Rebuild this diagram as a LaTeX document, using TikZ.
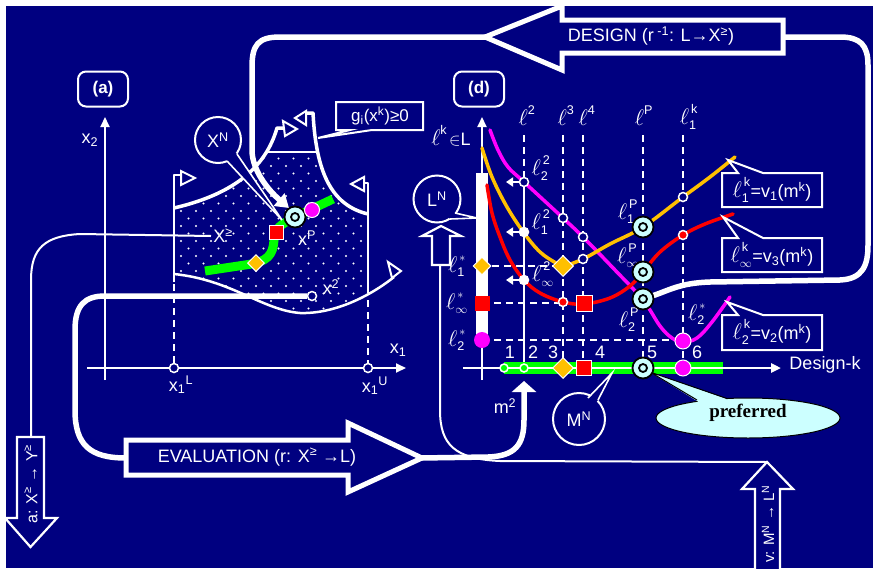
\documentclass[tikz,border=0pt]{standalone}
\usepackage{fontspec}
\setmainfont{Liberation Sans}
\newfontfamily\serifb{Liberation Serif}
\usetikzlibrary{arrows.meta,shapes.geometric}
\definecolor{navy}{HTML}{000080}
\definecolor{gold}{HTML}{FFC000}
\definecolor{lcyan}{HTML}{CCFFFF}
\definecolor{grn}{HTML}{00FF00}
\definecolor{mag}{HTML}{FF00FF}
\definecolor{rd}{HTML}{FF0000}
\newcommand{\mr}[1]{\mathrm{#1}}
\newcommand{\myup}[1]{\textsuperscript{#1}}
\newcommand{\fs}[1]{\fontsize{#1}{#1}\selectfont}
\newcommand{\Ell}{\mbox{\scalebox{1.3}{$\ell$}}}
\tikzset{
  wl/.style={draw=white,line width=2pt},
  thk/.style={draw=white,line width=5.5pt},
  txt/.style={text=white,inner sep=0pt,font=\fs{17}},
  ltxt/.style={text=white,inner sep=0pt,font=\fs{18}},
  dsh/.style={draw=white,line width=2pt,dash pattern=on 7pt off 5pt},
  cons/.style={draw=white,line width=2.5pt,line join=round},
  flagtri/.style={draw=white,line width=2pt,fill=navy,line join=miter},
  smc/.style={circle,draw=white,line width=1.5pt,fill=navy,minimum size=9pt,inner sep=0pt},
  tgto/.style={circle,draw=black,line width=1.8pt,fill=lcyan,minimum size=21pt,inner sep=0pt},
  tgti/.style={circle,draw=black,line width=1.8pt,minimum size=8pt,inner sep=0pt},
  dmd/.style={diamond,aspect=1,fill=gold,draw=white,line width=1pt,minimum size=18pt,inner sep=0pt},
  sqr/.style={rectangle,fill=rd,draw=white,line width=1pt,minimum size=14pt,inner sep=0pt},
  mdot/.style={circle,fill=mag,draw=white,line width=1pt,minimum size=15pt,inner sep=0pt},
  bigarrow/.style={draw=white,line width=5pt,fill=navy,line join=miter},
  thinarrow/.style={draw=white,line width=2.2pt,fill=navy,line join=miter},
  lblbox/.style={draw=white,line width=2pt,rounded corners=8pt,minimum width=50pt,minimum height=35pt,text=white,font=\fs{17}\bfseries},
  callbox/.style={draw=white,line width=2pt,fill=navy,line join=miter},
  crv/.style={line width=3.5pt,line cap=round},
}
\newcommand{\mytgt}[2]{\node[tgto] (#1) at (#2) {}; \node[tgti] (#1i) at (#2) {};}
\begin{document}
\begin{tikzpicture}[x=1pt,y=-1pt]
\useasboundingbox (0,0) rectangle (873,568);
\fill[white] (0,0) rectangle (873,568);
\fill[navy] (6,6) rectangle (873,568);

% ---------- panel (a): feasible region ----------
\begin{scope}
\clip (174,274) -- (174,208) .. controls (218.8,197.6) and (250.2,179.5) .. (267.1,151.2) -- (317.5,151.6) .. controls (324.5,185.9) and (339.5,207.3) .. (368,214) -- (368,293) .. controls (345,306) and (330,314) .. (300,313) .. controls (262,310) and (232,280) .. (174,274) -- cycle;
\foreach \r in {0,...,22}{\foreach \c in {0,...,15}{\fill[white] ({166+\c*15+mod(\r,2)*7.5},{151+\r*7.5}) circle (1.1pt);}}
\end{scope}
\draw[white,line width=2pt] (267.1,151.5) -- (317.5,151.5);
% constraints
\draw[cons] (174,282) -- (174,175) -- (181,175);
\draw[flagtri] (181,171) -- (195,178) -- (181,185) -- cycle;
\draw[cons,line width=3.5pt] (174,208) .. controls (230,195) and (265,170) .. (277,128) -- (283,128);
\draw[flagtri] (283,121) -- (297,129) -- (285,136) -- cycle;
\draw[cons,line width=3.5pt] (306,113) -- (313,113) .. controls (316,170) and (330,205) .. (368,214);
\draw[flagtri] (295,118) -- (306,111) -- (306,125) -- cycle;
\draw[cons] (368,293) -- (368,183) -- (364,183);
\draw[flagtri] (351,184) -- (364,177) -- (364,191) -- cycle;
\draw[cons] (174,274) .. controls (232,280) and (262,310) .. (300,313) .. controls (330,314) and (365,300) .. (394,277);
\draw[flagtri] (388,262) -- (401,271) -- (392,278) -- cycle;
% green path
\draw[grn,line width=9pt] (205,271) -- (245,265) .. controls (268,262) and (273,255) .. (274,240) .. controls (275,228) and (280,225) .. (295,217) -- (333,199);

% axes (a)
\draw[wl,-{Triangle[length=10pt,width=9pt]}] (105,380) -- (105,117);
\draw[wl,-{Triangle[length=10pt,width=9pt]}] (87,368) -- (406,368);
\draw[dsh] (174,284) -- (174,364);
\draw[dsh] (368,300) -- (368,364);
\node[txt,font=\fs{18}] (x2lab) at (90,140) {x\textsubscript{2}};
\node[txt,font=\fs{18}] (x1lab) at (398,350) {x\textsubscript{1}};
\node[txt,font=\fs{18}] (x1Llab) at (181,385) {x\textsubscript{1}\textsuperscript{L}};
\node[txt,font=\fs{18}] (x1Ulab) at (375,386) {x\textsubscript{1}\textsuperscript{U}};
\node[smc] (x1l) at (174,368) {};
\node[smc] (x1u) at (368,368) {};
\node[lblbox] (alab) at (103,89) {(a)};

% X^N callout
\draw[white,line width=2pt,fill=navy] (218,140) circle (23pt);
\fill[navy] (227,161) -- (282,220) -- (237,154) -- (218,140) -- cycle;
\draw[white,line width=1.6pt] (227,161) -- (282,220) -- (237,154);
\node[txt,font=\fs{18}] (xn) at (218,140) {X\myup{N}};
% g callout
\draw[callbox] (336,102) -- (423,102) -- (423,130) -- (372,130) -- (318,138) -- (350,130) -- (336,130) -- cycle;
\node[txt] (glab) at (380,116) {g\textsubscript{i}(x\myup{k})≥0};

% ---------- loops ----------
\draw[white,line width=2pt] (211,236) -- (80,234) .. controls (45,236) and (31,248) .. (31,280) -- (31,438);
\draw[thk] (307,296) -- (105,296) .. controls (85,296) and (75,305) .. (75,330) -- (75,410) .. controls (75,445) and (90,458) .. (126,458);
\draw[white,line width=2pt] (767,462) -- (500,461) .. controls (455,459) and (440,445) .. (440,410) -- (440,265);
\draw[thk,-{Triangle[length=11pt,width=24pt]}] (420,458) -- (488,457) .. controls (515,456) and (524,445) .. (524,420) -- (524,381);
\draw[thk] (652,296) .. controls (670,290) and (680,283) .. (710,282) -- (840,280) .. controls (863,279) and (868,265) .. (868,245) -- (868,65) .. controls (868,45) and (860,37) .. (840,37) -- (780,37);
\draw[thk,-{Triangle[length=13pt,width=16pt]}] (487,37) -- (280,37) .. controls (258,37) and (252,45) .. (252,67) -- (252,150) .. controls (252,170) and (268,190) .. (289,208);

% block arrows
\draw[bigarrow] (126,440) -- (348,440) -- (348,423) -- (422,458) -- (348,492) -- (348,475) -- (126,475) -- cycle;
\node[txt,font=\fs{18}] (evl) at (257,457) {EVALUATION (r: X\myup{≥} →L)};
\draw[bigarrow] (783,20) -- (562,20) -- (562,6) -- (485,37) -- (562,70) -- (562,53) -- (783,53) -- cycle;
\node[txt,font=\fs{18}] (dsg) at (651,36) {DESIGN (r\myup{ -1}: L→X\myup{≥})};
\draw[thinarrow] (17,437) -- (44,437) -- (44,518) -- (57,518) -- (30.5,547) -- (5,518) -- (17,518) -- cycle;
\node[txt,font=\fs{16},rotate=90] (alab2) at (31,484) {a: X\myup{≥} → Y\myup{≥}};
\draw[thinarrow] (755,570) -- (755,489) -- (742,489) -- (767,462) -- (793,489) -- (780,489) -- (780,570);
\node[txt,font=\fs{15},rotate=90] (vlab) at (768,524) {v: M\myup{N} → L\myup{N}};
\draw[thinarrow] (432,265) -- (432,236) -- (422,236) -- (441,226) -- (461,236) -- (450,236) -- (450,265) -- cycle;

% panel (a) markers
\node[dmd,minimum size=17pt] (ad) at (256,263) {};
\node[sqr,minimum size=14pt] (as) at (276,232) {};
\mytgt{atg}{295,217}
\node[mdot,minimum size=15pt] (am) at (312,210) {};
\node[smc] (x2c) at (312,296) {};
\node[txt,font=\fs{18}] (xge) at (223,236) {X\myup{≥}};
\node[txt,font=\fs{18}] (xp) at (307,238) {x\myup{P}};
\node[txt,font=\fs{18}] (x2l) at (331,287) {x\myup{2}};

% ---------- panel (d) ----------
\node[lblbox] (dlab) at (479,89) {(d)};
\fill[white] (476,173) rectangle (488,340);
\draw[wl,-{Triangle[length=10pt,width=9pt]}] (482,380) -- (482,117);
\node[txt,font=\fs{18}] (lk) at (451,136) {$\Ell^{\mr{k}}\!\in$L};
% dashed guides
\draw[dsh] (524,135) -- (524,182);
\draw[dsh] (563,135) -- (563,366);
\draw[dsh] (583,135) -- (583,366);
\draw[dsh] (643,135) -- (643,366);
\draw[dsh] (683,135) -- (683,366);
\draw[dsh] (492,266) -- (558,266);
\draw[dsh] (494,303) -- (578,303);
\draw[dsh] (494,340) -- (678,340);
\draw[white,line width=2pt] (524,182) -- (524,368);
\foreach \yy in {182,232,280}{\draw[white,line width=2pt,-{Triangle[length=7pt,width=9pt]}] (524,\yy) -- (506,\yy);}
% top labels
\node[ltxt] (t2) at (527,116) {$\Ell^{\mr{2}}$};
\node[ltxt] (t3) at (566,116) {$\Ell^{\mr{3}}$};
\node[ltxt] (t4) at (587,116) {$\Ell^{\mr{4}}$};
\node[ltxt] (tP) at (644,116) {$\Ell^{\mr{P}}$};
\node[ltxt] (tk) at (689,117) {$\Ell_{\mr{1}}^{\,\mr{k}}$};
% curves
\draw[mag,crv] plot[smooth,tension=0.6] coordinates {(490,130) (498,150) (508,167) (524,182) (563,218) (583,237) (615,270) (643,300) (660,326) (672,338) (683,342) (697,338) (712,322) (730,297)};
\draw[gold,crv] plot[smooth,tension=0.6] coordinates {(482,148) (492,177) (507,207) (524,233) (540,252) (556,263) (563,266) (583,259) (610,244) (643,227) (683,197) (710,177) (735,157)};
\draw[rd,crv] plot[smooth,tension=0.6] coordinates {(487,185) (492,213) (500,237) (510,260) (524,280) (540,293) (563,302) (584,304) (610,298) (630,286) (643,272) (660,252) (683,235) (705,224) (733,214)};
% design axis
\fill[grn] (504,362) rectangle (723,374);
\draw[white,line width=2.5pt,-{Triangle[length=10pt,width=9pt]}] (463,368) -- (781,368);
\node[txt,font=\fs{18}] (dk) at (825,365) {Design-k};
\foreach \n/\xx in {1/510,2/533,3/553,4/600,5/652,6/697}{\node[txt,font=\fs{18}] (num\n) at (\xx,352) {\n};}
\node[txt,font=\fs{18}] (m2lab) at (505,406) {m\myup{2}};
% side labels
\node[txt,font=\fs{18}] (ls1) at (457,266) {$\Ell_{\mr{1}}^{\,*}$};
\node[txt,font=\fs{18}] (ls3) at (457,303) {$\Ell_{\infty}^{\,*}$};
\node[txt,font=\fs{18}] (ls2) at (457,340) {$\Ell_{\mr{2}}^{\,*}$};
\node[txt,font=\fs{18}] (l22) at (541,168) {$\Ell_{\mr{2}}^{\,\mr{2}}$};
\node[txt,font=\fs{18}] (l12) at (541,222) {$\Ell_{\mr{1}}^{\,\mr{2}}$};
\node[txt,font=\fs{18}] (l32) at (543,274) {$\Ell_{\infty}^{\,\mr{2}}$};
\node[txt,font=\fs{18}] (l1P) at (628,212) {$\Ell_{\mr{1}}^{\,\mr{P}}$};
\node[txt,font=\fs{18}] (l3P) at (628,256) {$\Ell_{\infty}^{\,\mr{P}}$};
\node[txt,font=\fs{18}] (l2P) at (629,320) {$\Ell_{\mr{2}}^{\,\mr{P}}$};
\node[txt,font=\fs{18}] (l2s) at (697,314) {$\Ell_{\mr{2}}^{\,*}$};
% small points
\node[smc] (p1) at (524,182) {};
\node[smc,fill=white] (p2) at (524,232) {};
\node[smc,fill=white] (p3) at (524,280) {};
\node[smc] (p4) at (563,218) {};
\node[smc] (p5) at (583,237) {};
\node[smc] (p6) at (583,259) {};
\node[smc,fill=rd] (p7) at (563,302) {};
\node[smc] (p8) at (683,197) {};
\node[smc,fill=rd] (p9) at (683,235) {};
\node[smc,fill=grn,minimum size=8pt] (p10) at (504,368) {};
\node[smc,fill=grn,minimum size=8pt] (p11) at (524,368) {};
% markers
\node[dmd] (d1) at (482,266) {};
\node[sqr,draw=none,minimum size=15pt] (s1) at (482,303) {};
\node[mdot,draw=none,minimum size=16pt] (m1) at (482,340) {};
\node[dmd,minimum size=21pt] (d2) at (563,266) {};
\node[sqr,minimum size=16pt] (s2) at (584,303) {};
\node[mdot,minimum size=16pt] (m2) at (683,341) {};
\node[dmd,minimum size=21pt] (d3) at (563,368) {};
\node[sqr,minimum size=15pt] (s3) at (584,368) {};
\node[mdot,minimum size=16pt] (m3) at (683,368) {};
\mytgt{tg1}{643,227}
\mytgt{tg2}{643,272}
\mytgt{tg3}{643,299}
% right callouts
\draw[callbox] (722,173) -- (738,173) -- (728,160) -- (763,173) -- (822,173) -- (822,207) -- (722,207) -- cycle;
\node[txt,font=\fs{18}] (b1) at (772,190) {$\Ell_{\mr{1}}^{\,\mr{k}}$=v\textsubscript{1}(m\myup{k})};
\draw[callbox] (722,238) -- (738,238) -- (723,217) -- (763,238) -- (822,238) -- (822,272) -- (722,272) -- cycle;
\node[txt,font=\fs{18}] (b2) at (772,255) {$\Ell_{\infty}^{\,\mr{k}}$=v\textsubscript{3}(m\myup{k})};
\draw[callbox] (722,315) -- (738,315) -- (727,302) -- (763,315) -- (822,315) -- (822,350) -- (722,350) -- cycle;
\node[txt,font=\fs{18}] (b3) at (772,332) {$\Ell_{\mr{2}}^{\,\mr{k}}$=v\textsubscript{2}(m\myup{k})};
% L^N callout
\draw[white,line width=2pt,fill=navy] (437,199) circle (23.5pt);
\fill[navy] (455,213) -- (477,218) -- (450,219) -- (437,199) -- cycle;
\draw[white,line width=1.6pt] (455,213) -- (477,218) -- (450,219);
\node[txt,font=\fs{18}] (ln) at (437,199) {L\myup{N}};
% M^N callout
\draw[white,line width=2pt,fill=navy] (579,419) circle (26pt);
\fill[navy] (588,398) -- (612,373) -- (598,400) -- (579,419) -- cycle;
\draw[white,line width=1.6pt] (588,398) -- (612,373) -- (598,400);
\node[txt,font=\fs{18}] (mn) at (579,419) {M\myup{N}};
% preferred callout
\draw[black,line width=1pt,fill=lcyan] (748,418) ellipse (92pt and 20pt);
\fill[lcyan] (650,372) -- (697,401) -- (712,410) -- (727,399) -- cycle;
\draw[black,line width=1pt] (697,400) -- (650,372) -- (727,398.5);
\mytgt{tg4}{643,368}
\node[inner sep=0pt,font=\serifb\bfseries\fs{19},text=black] (pref) at (748,413) {preferred};
\end{tikzpicture}
\end{document}
